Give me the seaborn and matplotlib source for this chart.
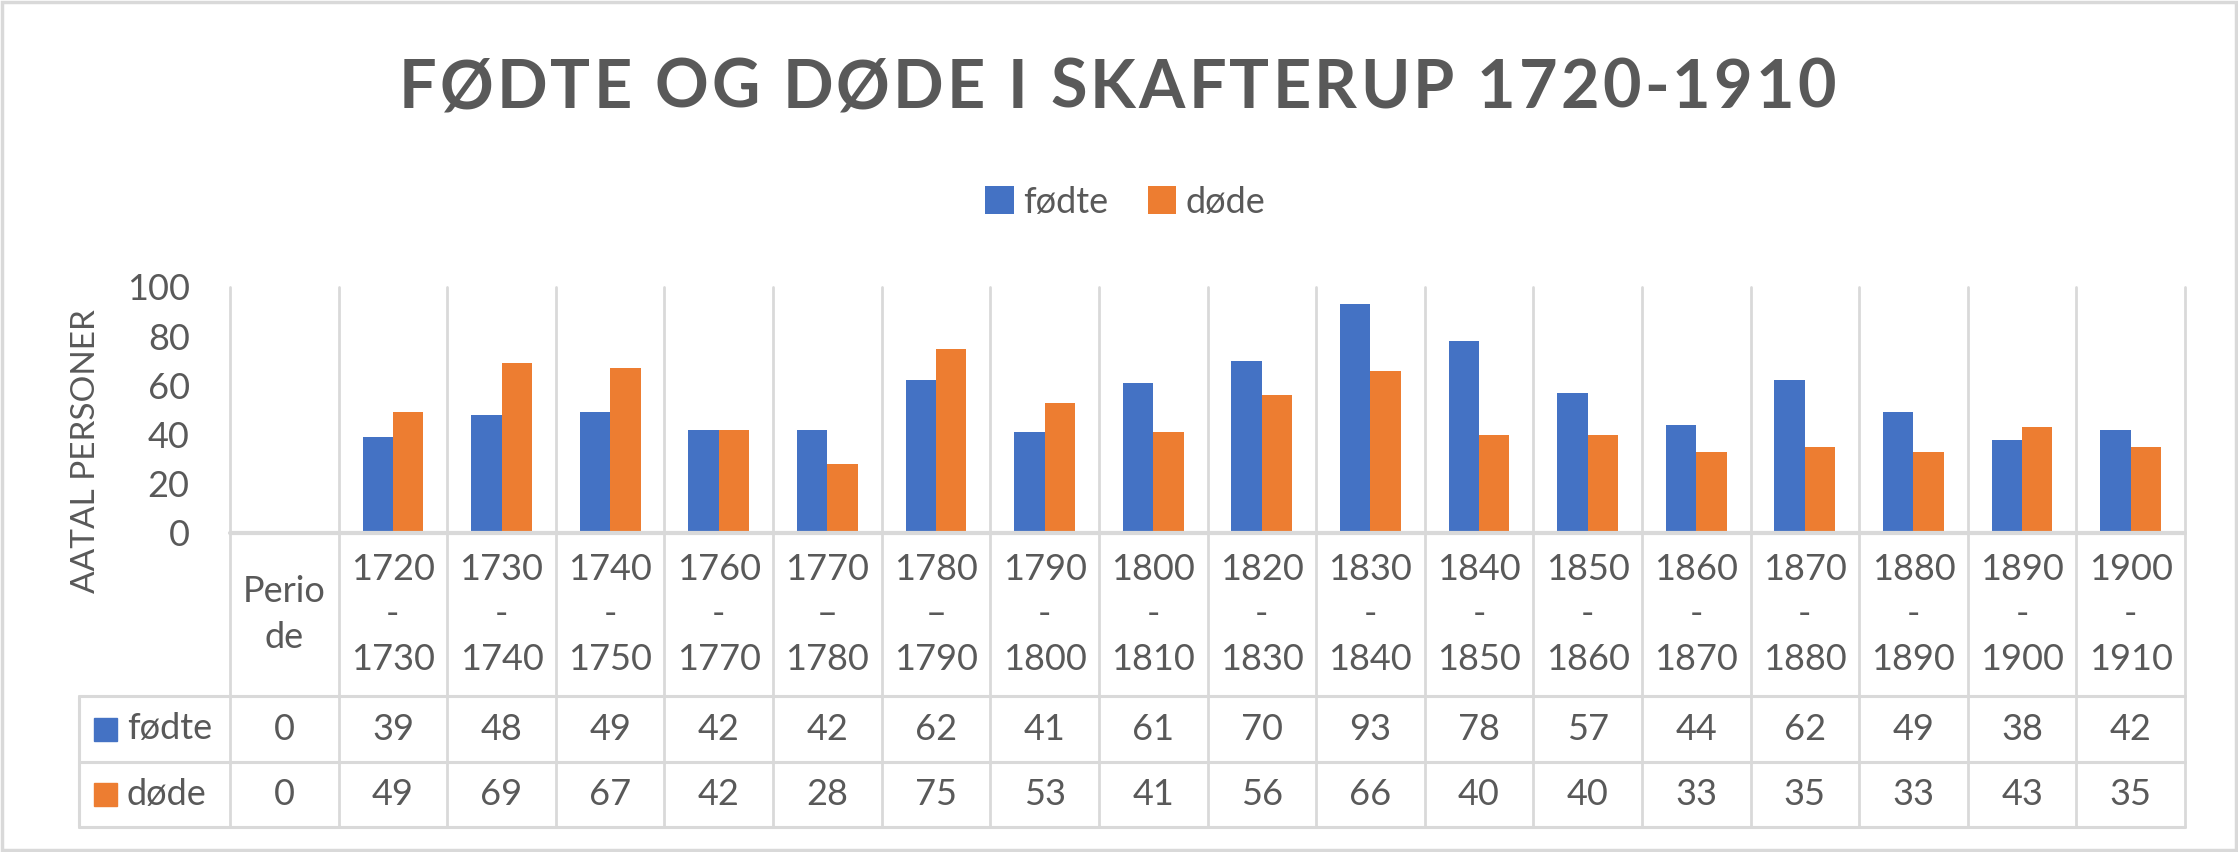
import numpy as np
import pandas as pd
import matplotlib
matplotlib.use('Agg')
import matplotlib.pyplot as plt
import matplotlib.transforms as mtransforms
from matplotlib.patches import Rectangle
from matplotlib.lines import Line2D
import seaborn as sns

perioder = ["Perio\nde", "1720\n-\n1730", "1730\n-\n1740", "1740\n-\n1750", "1760\n-\n1770",
            "1770\n–\n1780", "1780\n–\n1790", "1790\n-\n1800", "1800\n-\n1810", "1820\n-\n1830",
            "1830\n-\n1840", "1840\n-\n1850", "1850\n-\n1860", "1860\n-\n1870", "1870\n-\n1880",
            "1880\n-\n1890", "1890\n-\n1900", "1900\n-\n1910"]
fodte = [0, 39, 48, 49, 42, 42, 62, 41, 61, 70, 93, 78, 57, 44, 62, 49, 38, 42]
dode = [0, 49, 69, 67, 42, 28, 75, 53, 41, 56, 66, 40, 40, 33, 35, 33, 43, 35]
serier = ["fødte", "døde"]
y_ticks = [0, 20, 40, 60, 80, 100]
title = "FØDTE OG DØDE I SKAFTERUP 1720-1910"

BLUE = "#4472C4"
ORANGE = "#ED7D31"
TXT = "#595959"
GRID = "#D9D9D9"

df = pd.DataFrame({
    "periode": perioder * 2,
    "antal": fodte + dode,
    "serie": [serier[0]] * len(perioder) + [serier[1]] * len(perioder),
})

sns.set_theme(style="white")
plt.rcParams['font.family'] = ['Lato', 'DejaVu Sans']

W, H = 2238, 852
fig = plt.figure(figsize=(W / 100, H / 100), dpi=100)

# plot area in pixels
L, R, T, B = 230, 2185, 287, 533
ax = fig.add_axes([L / W, 1 - B / H, (R - L) / W, (B - T) / H])

sns.barplot(data=df, x="periode", y="antal", hue="serie", order=perioder,
            palette=[BLUE, ORANGE], width=0.56, saturation=1, linewidth=0,
            ax=ax, legend=True)

ax.set_xlim(-0.5, len(perioder) - 0.5)
ax.set_ylim(0, 100)
ax.set_yticks(y_ticks)
ax.tick_params(axis='y', labelsize=26, labelcolor=TXT, length=0, pad=29)
ax.set_xticks([])
ax.set_xlabel("")
ax.set_ylabel("")
for s in ax.spines.values():
    s.set_visible(False)

# legend on top
handles, labels = ax.get_legend_handles_labels()
ax.get_legend().remove()
leg = fig.legend(handles, labels, loc="center", bbox_to_anchor=(1125 / W, 1 - 202 / H),
                 ncol=2, frameon=False, fontsize=26, handlelength=0.8, handleheight=0.8,
                 handletextpad=0.25, columnspacing=1.1, labelcolor=TXT)

# title, drawn letter by letter to get the wide letter spacing
renderer = fig.canvas.get_renderer()
def text_w(s):
    t = fig.text(0, 0, s + "|", fontsize=48, fontweight="bold")
    w = t.get_window_extent(renderer).width
    t.remove()
    return w

bar_w = text_w("")
spacing = 3.2
prefix = [text_w(title[:i]) - bar_w for i in range(len(title) + 1)]
total = prefix[-1] + spacing * (len(title) - 1)
x0 = 1117 - total / 2
for i, ch in enumerate(title):
    if ch == " ":
        continue
    fig.text((x0 + prefix[i] + i * spacing) / W, 1 - 108 / H, ch, ha="left", va="baseline",
             fontsize=48, fontweight="bold", color=TXT)

# y axis title
fig.text(86 / W, 1 - 451 / H, "AATAL PERSONER", rotation=90, ha="center", va="center",
         fontsize=24, color=TXT)

# data table below the plot
def yfrac(py):
    return (B - py) / (B - T)

blend = mtransforms.blended_transform_factory(ax.transData, ax.transAxes)
x_left = (79 - L) / (R - L)
rows_y = [yfrac(696), yfrac(762), yfrac(827)]

for i in range(len(perioder) + 1):
    ax.add_line(Line2D([i - 0.5, i - 0.5], [1, rows_y[-1]], transform=blend,
                       color=GRID, lw=2, clip_on=False, zorder=0))
for yy in rows_y:
    ax.add_line(Line2D([x_left, 1], [yy, yy], transform=ax.transAxes,
                       color=GRID, lw=2.2, clip_on=False))
ax.add_line(Line2D([x_left, x_left], [rows_y[0], rows_y[-1]], transform=ax.transAxes,
                   color=GRID, lw=2.2, clip_on=False))
ax.add_line(Line2D([0, 1], [0, 0], transform=ax.transAxes, color=GRID, lw=3, clip_on=False))

# category labels
label_y = (yfrac(533) + yfrac(696)) / 2
for i, p in enumerate(perioder):
    ax.text(i, label_y, p, transform=blend, ha="center", va="center",
            fontsize=26, color=TXT, linespacing=1.45)

# value rows
for vals, colour, name, y0, y1 in [(fodte, BLUE, serier[0], 696, 762),
                                   (dode, ORANGE, serier[1], 762, 827)]:
    yc = (yfrac(y0) + yfrac(y1)) / 2
    for i, v in enumerate(vals):
        ax.text(i, yc, str(v), transform=blend, ha="center", va="center",
                fontsize=26, color=TXT)
    sq_w = 23 / (R - L)
    sq_h = 23 / (B - T)
    ax.add_patch(Rectangle(((94 - L) / (R - L), yc - sq_h / 2), sq_w, sq_h,
                           transform=ax.transAxes, color=colour, clip_on=False))
    ax.text((127 - L) / (R - L), yc, name, transform=ax.transAxes, ha="left", va="center",
            fontsize=26, color=TXT)

# chart border
fig.add_artist(Rectangle((0.001, 0.002), 0.998, 0.996, transform=fig.transFigure,
                         fill=False, edgecolor=GRID, lw=2.5))

plt.savefig("out.png", dpi=100)
plt.close()
